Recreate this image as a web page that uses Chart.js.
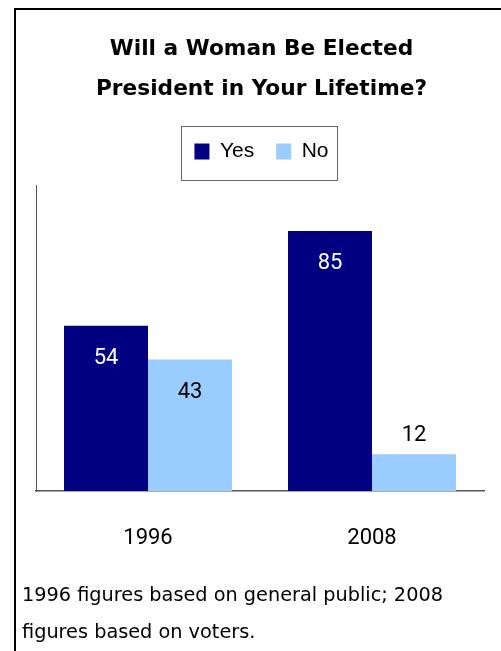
<!DOCTYPE html>
<html>
<head>
<meta charset="utf-8">
<script src="https://cdn.jsdelivr.net/npm/chart.js@4.4.0/dist/chart.umd.min.js"></script>
<style>
  html, body { margin: 0; padding: 0; background: #fff; }
  #wrap { position: relative; width: 501px; height: 651px; overflow: hidden; }
  #frame { position: absolute; left: 14px; top: 8px; width: 600px; height: 700px; border-left: 2px solid #000; border-top: 2px solid #000; pointer-events: none; }
  canvas { position: absolute; left: 0; top: 0; }
</style>
</head>
<body>
<div id="wrap">
  <canvas id="chart" width="501" height="651"></canvas>
  <div id="frame"></div>
</div>
<script>
let years = ['1996', '2008'];
let yes = [54, 85];
let no = [43, 12];
let titleLines = ['Will a Woman Be Elected', 'President in Your Lifetime?'];
let noteLines = ['1996 figures based on general public; 2008', 'figures based on voters.'];

// box round the legend
let legendBox = {
    id: 'legendBox',
    afterDraw(chart) {
        let boxes = chart.legend.legendHitBoxes;
        if (!boxes || !boxes.length) return;
        let first = boxes[0];
        let last = boxes[boxes.length - 1];
        let ctx = chart.ctx;
        ctx.save();
        ctx.strokeStyle = '#666';
        ctx.lineWidth = 1;
        let x0 = Math.round(first.left - 13);
        let x1 = Math.round(last.left + last.width + 8);
        ctx.strokeRect(x0 + 0.5, Math.round(first.top - 15) + 0.5, x1 - x0, 54);
        ctx.restore();
    }
};

// numbers on the bars
let barLabels = {
    id: 'barLabels',
    afterDatasetsDraw(chart) {
        let ctx = chart.ctx;
        ctx.save();
        ctx.font = '22px Roboto';
        ctx.textAlign = 'center';
        ctx.textBaseline = 'middle';
        chart.data.datasets.forEach(function(ds, i) {
            let meta = chart.getDatasetMeta(i);
            meta.data.forEach(function(bar, j) {
                let h = bar.base - bar.y;
                if (h > 60) {
                    ctx.fillStyle = i === 0 ? '#fff' : '#000';
                    ctx.fillText(ds.data[j], bar.x, bar.y + 33);
                } else {
                    ctx.fillStyle = '#000';
                    ctx.fillText(ds.data[j], bar.x, bar.y - 19);
                }
            });
        });
        ctx.restore();
    }
};

let ctx = document.querySelector('#chart').getContext('2d');
let chart = new Chart(ctx, {
    type: 'bar',
    data: {
        labels: years,
        datasets: [{
            label: 'Yes',
            data: yes,
            backgroundColor: '#000080'
        }, {
            label: 'No',
            data: no,
            backgroundColor: '#99ccff'
        }]
    },
    options: {
        responsive: false,
        animation: false,
        events: [],
        layout: { padding: { left: 22, right: 0, top: 0, bottom: 0 } },
        datasets: { bar: { categoryPercentage: 0.75, barPercentage: 1.0 } },
        scales: {
            x: {
                grid: { display: false },
                border: { display: true, color: '#555', width: 1.5 },
                ticks: { color: '#000', font: { family: 'Roboto', size: 22 }, padding: 26 },
                afterFit: s => { s.height = 86; }
            },
            x2: {
                position: 'top',
                grid: { display: false },
                border: { display: false },
                ticks: { display: false },
                afterFit: s => { s.height = 13; }
            },
            y: {
                min: 0,
                max: 100,
                grid: { display: false },
                border: { display: true, color: '#555', width: 1 },
                ticks: { display: false },
                afterFit: s => { s.width = 14; }
            },
            y2: {
                position: 'right',
                grid: { display: false },
                border: { display: false },
                ticks: { display: false },
                afterFit: s => { s.width = 17; }
            }
        },
        plugins: {
            tooltip: { enabled: false },
            title: {
                display: true,
                text: titleLines,
                color: '#000',
                font: { family: 'DejaVu Sans', size: 21.7, weight: 'bold', lineHeight: 40 / 21.7 },
                padding: { top: 29, bottom: 10 }
            },
            legend: {
                display: true,
                position: 'top',
                labels: {
                    color: '#000',
                    font: { family: 'Liberation Sans', size: 21 },
                    boxWidth: 15,
                    boxHeight: 16,
                    padding: 22
                }
            },
            subtitle: {
                display: true,
                position: 'bottom',
                align: 'start',
                text: noteLines,
                color: '#000',
                font: { family: 'DejaVu Sans', size: 19.3, weight: 'normal', lineHeight: 37 / 19.3 },
                padding: { top: 0, bottom: 0 }
            }
        }
    },
    plugins: [legendBox, barLabels]
});
</script>
</body>
</html>
